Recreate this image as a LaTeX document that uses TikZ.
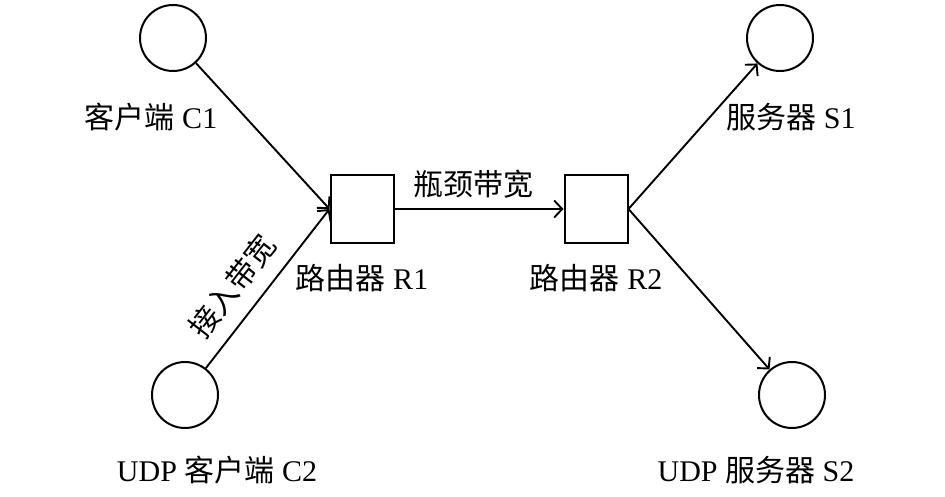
\documentclass[tikz,border=0pt]{standalone}
\usepackage{fontspec}
\setmainfont{Liberation Serif}
\newfontfamily\cjk{Noto Sans CJK SC}
\usetikzlibrary{arrows.meta}

\begin{document}
\begin{tikzpicture}[x=1pt, y=-1pt]
   \tikzstyle{every node}=[font=\fontsize{30}{34}\selectfont, inner sep=0pt]
   \tikzstyle{host}=[draw, circle, line width=2pt, minimum size=66pt]
   \tikzstyle{router}=[draw, rectangle, line width=2pt, minimum width=63pt, minimum height=68pt]
   \tikzstyle{link}=[line width=1.9pt, -{Straight Barb[length=8pt, width=17pt, line width=1.9pt]}]

\useasboundingbox (0,0) rectangle (945,497);

% hosts and routers
\node[host] (c1) at (173,38) {};
\node[host] (c2) at (185,395) {};
\node[host] (s1) at (780,38) {};
\node[host] (s2) at (792,395) {};
\node[router] (r1) at (362,209) {};
\node[router] (r2) at (596,209) {};

% names
\node (c1name) at (151,117) {{\cjk 客户端} C1};
\node (c2name) at (217,470) {UDP {\cjk 客户端} C2};
\node (s1name) at (791,117) {{\cjk 服务器} S1};
\node (s2name) at (756,470) {UDP {\cjk 服务器} S2};
\node (r1name) at (362,278) {{\cjk 路由器} R1};
\node (r2name) at (596,278) {{\cjk 路由器} R2};

% links
\draw[link] (c1) -- (r1.west);
\draw[link] (c2) -- node[sloped, above=14pt, pos=0.4] (access) {\cjk 接入带宽} (r1.west);
\draw[link] (r1.east) -- node[above=10pt, pos=0.47] (bottleneck) {\cjk 瓶颈带宽} (r2.west);
\draw[link] (r2.east) -- (s1);
\draw[link] (r2.east) -- (s2);

\end{tikzpicture}
\end{document}
